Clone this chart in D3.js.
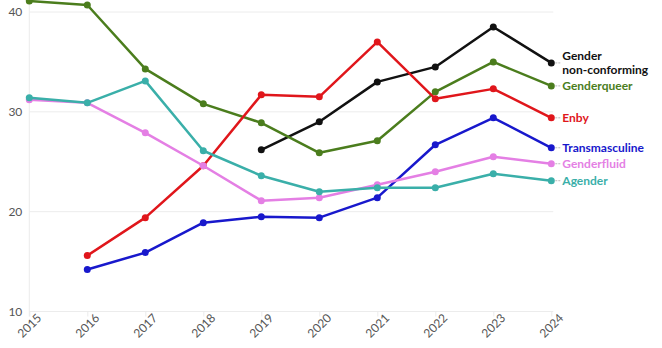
<!DOCTYPE html>
<html>
<head>
<meta charset="utf-8">
<script src="https://cdn.jsdelivr.net/npm/d3@7"></script>
<style>
  html, body { margin: 0; padding: 0; background: #fff; }
  svg { display: block; }
  .tick text { font-family: Lato, "Open Sans", sans-serif; font-size: 12px; fill: #555; }
  .label { font-family: Lato, "Open Sans", sans-serif; font-size: 12px; font-weight: 700; }
</style>
</head>
<body>
<svg id="chart" width="662" height="348"></svg>
<script>
// Years on the x axis
const years = [2015, 2016, 2017, 2018, 2019, 2020, 2021, 2022, 2023, 2024];
const yTicks = [10, 20, 30, 40];

// Share of respondents per identity (null = not asked that year)
const genderNonConforming = [null, null, null, null, 26.2, 29.0, 33.0, 34.5, 38.5, 34.9];
const genderqueer        = [41.1, 40.7, 34.3, 30.8, 28.9, 25.9, 27.1, 32.0, 35.0, 32.6];
const enby               = [null, 15.6, 19.4, 24.6, 31.7, 31.5, 37.0, 31.3, 32.3, 29.4];
const transmasculine     = [null, 14.2, 15.9, 18.9, 19.5, 19.4, 21.4, 26.7, 29.4, 26.4];
const genderfluid        = [31.2, 30.9, 27.9, 24.6, 21.1, 21.4, 22.7, 24.0, 25.5, 24.8];
const agender            = [31.4, 30.9, 33.1, 26.1, 23.6, 22.0, 22.4, 22.4, 23.8, 23.1];

const series = [
  { name: ["Gender", "non-conforming"], values: genderNonConforming, color: "#111111" },
  { name: ["Genderqueer"],              values: genderqueer,         color: "#4b7d1d" },
  { name: ["Enby"],                     values: enby,                color: "#e0161b" },
  { name: ["Transmasculine"],           values: transmasculine,      color: "#1818cc" },
  { name: ["Genderfluid"],              values: genderfluid,         color: "#e47fe4" },
  { name: ["Agender"],                  values: agender,             color: "#3aafa9" }
];

const svg = d3.select("#chart");
const x = d3.scaleLinear().domain([2015, 2024]).range([29.3, 551.3]);
const y = d3.scaleLinear().domain([10, 40]).range([311.5, 12]);

// Horizontal grid
svg.append("g")
  .selectAll("line")
  .data(yTicks)
  .join("line")
  .attr("x1", x(2015)).attr("x2", x(2024) + 2)
  .attr("y1", d => y(d)).attr("y2", d => y(d))
  .attr("stroke", "#ececec").attr("stroke-width", 1);

// Left axis rule
svg.append("line")
  .attr("x1", x(2015)).attr("x2", x(2015))
  .attr("y1", 0).attr("y2", y(10) + 5)
  .attr("stroke", "#ececec");

// Y axis labels
const yAxis = svg.append("g")
  .attr("transform", `translate(${x(2015) - 6},0)`)
  .call(d3.axisLeft(y).tickValues(yTicks).tickSize(0).tickPadding(1).tickFormat(d3.format("d")));
yAxis.select(".domain").remove();

// X axis with rotated year labels
const xAxis = svg.append("g")
  .attr("transform", `translate(0,${y(10)})`)
  .call(d3.axisBottom(x).tickValues(years).tickSize(5).tickFormat(d3.format("d")));
xAxis.select(".domain").remove();
xAxis.selectAll(".tick line").attr("stroke", "#ececec");
xAxis.selectAll(".tick text")
  .attr("text-anchor", "end")
  .attr("dx", "0.3em")
  .attr("dy", "0.5em")
  .attr("transform", "rotate(-45)");

// Lines and points
const line = d3.line()
  .defined(d => d[1] != null)
  .x(d => x(d[0]))
  .y(d => y(d[1]));

series.forEach(s => {
  const pts = years.map((yr, i) => [yr, s.values[i]]);
  svg.append("path")
    .datum(pts)
    .attr("d", line)
    .attr("fill", "none")
    .attr("stroke", s.color)
    .attr("stroke-width", 2.5)
    .attr("stroke-linejoin", "round");
  svg.append("g")
    .selectAll("circle")
    .data(pts.filter(d => d[1] != null))
    .join("circle")
    .attr("cx", d => x(d[0]))
    .attr("cy", d => y(d[1]))
    .attr("r", 3.5)
    .attr("fill", s.color);
});

// End labels with short connectors; multi-word names stack as separate lines
series.forEach(s => {
  const last = s.values[s.values.length - 1];
  const ly = y(last);
  svg.append("line")
    .attr("x1", x(2024) + 4).attr("x2", x(2024) + 9)
    .attr("y1", ly).attr("y2", ly)
    .attr("stroke", "#bbb").attr("stroke-width", 1)
    .attr("stroke-dasharray", "2,1");
  const n = s.name.length;
  s.name.forEach((w, i) => {
    svg.append("text")
      .attr("class", "label")
      .attr("fill", s.color)
      .attr("x", x(2024) + 11)
      .attr("y", ly + (i - (n - 1) / 2) * 14.5)
      .attr("dy", "0.35em")
      .text(w);
  });
});
</script>
</body>
</html>
